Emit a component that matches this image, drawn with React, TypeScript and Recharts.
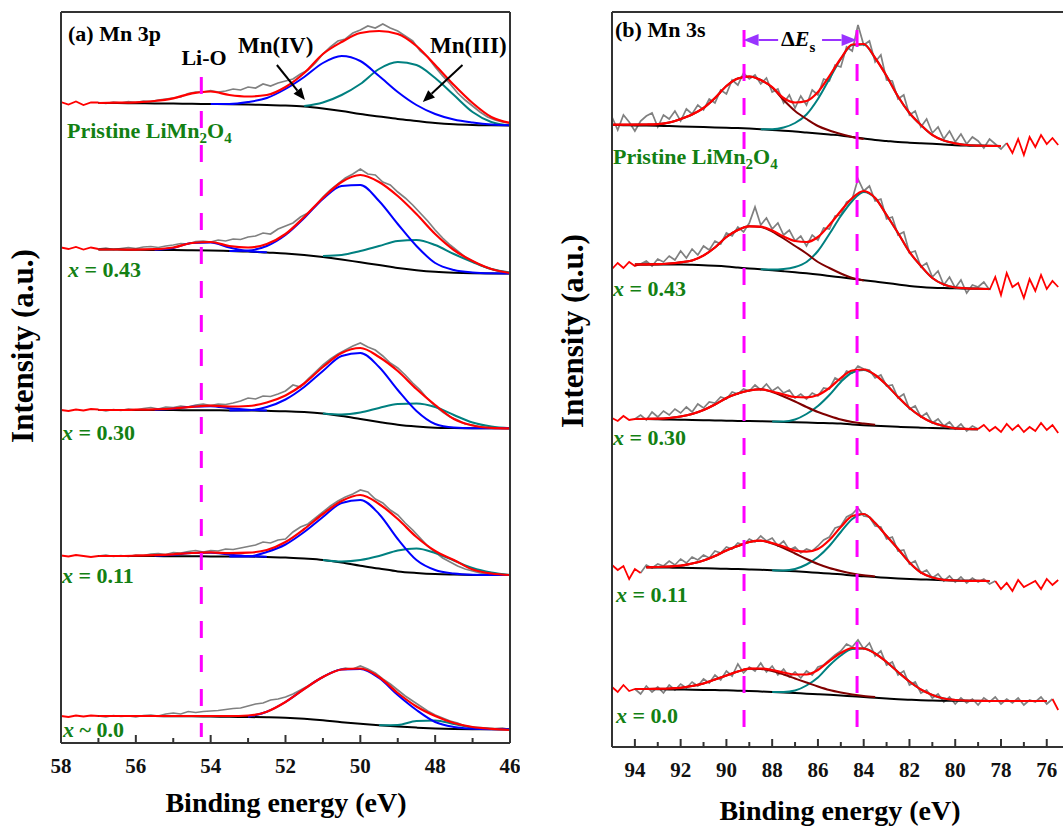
import React from "react";
import { LineChart, Line, XAxis, YAxis, ReferenceLine } from "recharts";

// ── Energy grids (eV) ───────────────────────────────────────────────
const A_RAW_EV = [
  58, 57.8, 57.6, 57.4, 57.2, 57, 56.8, 56.6, 56.4, 56.2, 56, 55.8, 55.6, 55.4, 55.2, 55,
  54.8, 54.6, 54.4, 54.2, 54, 53.8, 53.6, 53.4, 53.2, 53, 52.8, 52.6, 52.4, 52.2, 52,
  51.8, 51.6, 51.4, 51.2, 51, 50.8, 50.6, 50.4, 50.2, 50, 49.8, 49.6, 49.4, 49.2, 49,
  48.8, 48.6, 48.4, 48.2, 48, 47.8, 47.6, 47.4, 47.2, 47, 46.8, 46.6, 46.4, 46.2, 46,
];
const A_FIT_EV = [
  57, 56.5, 56, 55.5, 55, 54.5, 54, 53.5, 53, 52.5, 52, 51.5, 51, 50.5, 50, 49.5, 49,
  48.5, 48, 47.5, 47, 46.5, 46,
];
const B_RAW_EV = [
  95, 94.75, 94.5, 94.25, 94, 93.75, 93.5, 93.25, 93, 92.75, 92.5, 92.25, 92, 91.75, 91.5,
  91.25, 91, 90.75, 90.5, 90.25, 90, 89.75, 89.5, 89.25, 89, 88.75, 88.5, 88.25, 88, 87.75,
  87.5, 87.25, 87, 86.75, 86.5, 86.25, 86, 85.75, 85.5, 85.25, 85, 84.75, 84.5, 84.25, 84,
  83.75, 83.5, 83.25, 83, 82.75, 82.5, 82.25, 82, 81.75, 81.5, 81.25, 81, 80.75, 80.5,
  80.25, 80, 79.75, 79.5, 79.25, 79, 78.75, 78.5, 78.25, 78, 77.75, 77.5, 77.25, 77, 76.75,
  76.5, 76.25, 76, 75.75, 75.5,
];
const B_FIT_EV = [
  95, 94.5, 94, 93.5, 93, 92.5, 92, 91.5, 91, 90.5, 90, 89.5, 89, 88.5, 88, 87.5, 87, 86.5,
  86, 85.5, 85, 84.5, 84, 83.5, 83, 82.5, 82, 81.5, 81, 80.5, 80, 79.5, 79, 78.5, 78, 77.5,
  77, 76.5, 76, 75.5,
];

const A_TICKS = [46, 47, 48, 49, 50, 51, 52, 53, 54, 55, 56, 57, 58];
const B_TICKS = [76, 77, 78, 79, 80, 81, 82, 83, 84, 85, 86, 87, 88, 89, 90, 91, 92, 93, 94];

const SAMPLES_A = [
  { rel: "=", val: "0.43" },
  { rel: "=", val: "0.30" },
  { rel: "=", val: "0.11" },
  { rel: "~", val: "0.0" },
];
const SAMPLES_B = ["0.43", "0.30", "0.11", "0.0"];

// ── (a) Mn 3p : intensities relative to each trace's baseline ────────
const A_OFFSET = [640, 495, 333, 187, 27];
const A_FIT_RANGE = [[46, 57], [46, 57], [46, 57], [46, 57], [46, 57]];

const A_RAW_PRISTINE = [
  1, -1.5, 1.5, -2, 0.5,
  0.5, -0.5, 1, 0, 1.5, 0.5, 2, 1.5, 3, 4, 5, 6, 9.5, 11, 11, 12.5, 11, 12, 14, 13, 16, 15,
  19, 17, 20, 22, 24, 29, 33, 40, 49, 56, 62, 64, 70, 73, 77, 75, 79, 75, 72, 67, 62, 52,
  46, 36, 27, 19, 10, 3, -3, -9, -14, -17, -19, -20,
];
const A_RAW_043 = [
  0.5, -1, 1, -1.5, 0.5,
  -1, 0, -1.5, -0.5, 0.5, -0.5, 1, 1.5, 0.5, 2, 3, 4.5, 4, 6.5, 7, 6, 8, 7, 9, 8.5, 11, 12,
  15, 14, 19, 22, 25, 31, 35, 42, 51, 58, 64, 70, 74, 79, 74, 73, 66, 63, 56, 50, 43, 35,
  27, 18, 10, 3, -3, -9, -13, -17, -20, -22, -24, -25,
];
const A_RAW_030 = [
  0, -1, 0.5, -0.5, 1,
  0.5, -1, 0.5, -0.5, 1, 0, 1.5, 2.5, 1, 3, 2.5, 4, 3, 5, 6, 4.5, 6, 5.5, 7, 9, 12, 11, 14,
  13.5, 16, 19, 25, 23, 31, 38, 45, 51, 56, 60, 64, 67, 63, 60, 54, 47, 42, 35, 27, 20, 11,
  4, -2, -7, -10, -14, -15, -17, -17.5, -18, -18.5, -18.3,
];
const A_RAW_011 = [
  0.5, -0.5, 1, 0, -1,
  0, 1, -0.5, 0.5, -0.5, 1, 0.5, 2, 2.5, 1.5, 3.5, 3, 4.5, 5.5, 4, 5.5, 5, 7, 6.5, 8, 9.5,
  11, 14, 13, 16, 17, 24, 29, 32, 38, 44, 50, 55, 59, 62, 66, 64, 57, 53, 46, 41, 33, 26,
  18, 10, 4, -2, -6, -10, -13, -15, -17, -18, -18.5, -19, -19,
];
const A_RAW_000 = [
  0, -1, 0.5, -0.5, 0.5,
  0, -1, 0.5, -0.5, 0, -1, 0.5, 1, 0, 2, 3, 2, 4.5, 3.5, 4.5, 5, 5.5, 6.5, 7.5, 8, 10, 12,
  13, 16, 17, 19, 22, 26, 30, 35, 39, 43, 46, 48, 47, 50, 47, 43, 37, 32, 26, 20, 15, 10, 5,
  1, -2, -5, -7, -10, -11, -11.5, -12, -12.5, -12, -13.5,
];

const A_BG_PRISTINE = [0, 0, -0.3, -0.4, -0.6, -0.8, -1, -1.2, -1.5, -2, -2.5, -3.5, -5.5, -8, -11, -13.5, -16, -18, -20, -21.3, -22, -22.3, -22.5];
const A_ENV_PRISTINE = [0, 0.3, 0.7, 2, 4.7, 9.7, 11.5, 8, 6.5, 8, 16, 30, 49, 61, 70, 72, 69, 57, 38, 18, 0, -14, -20];
const A_MN4_PRISTINE = [null, null, null, null, null, null, -1, -1, 1, 5, 14, 26, 40, 47, 42, 27, 11, -2, -11, -16.5, -19.5, -21.5, -22.3];
const A_MN3_PRISTINE = [null, null, null, null, null, null, null, null, null, null, null, -3, 0.5, 8, 19, 34, 41, 38, 25, 8, -9, -19, -22.3];

const A_BG_043 = [-1.5, -1.5, -1.8, -2, -2, -2.2, -2.5, -3, -3.5, -4.5, -5.5, -7, -9, -11.5, -14.3, -17, -20, -22.2, -23.8, -24.7, -25.2, -25.4, -25.5];
const A_ENV_043 = [-1.5, -1.5, -1.6, -1.2, 0.5, 5, 6, 2, 0.5, 4, 14, 31, 50, 66, 73, 66, 52, 34, 14, -2, -13, -21, -25];
const A_MN4_043 = [null, null, null, null, null, null, null, -3, -2.5, 2, 13, 30, 49, 62, 63, 47, 24, 2, -15, -22, -24.5, -25.3, -25.5];
const A_MN3_043 = [null, null, null, null, null, null, null, null, null, null, null, null, -8, -7, -3, 2, 7, 8, 3, -6, -14, -21, -24.5];
const A_LIO_043 = [null, null, null, -1.8, 0, 5, 5.5, 0.5, -3, -4.3, null, null, null, null, null, null, null, null, null, null, null, null, null];

const A_BG_030 = [0, 0, 0, 0, -0.1, -0.2, -0.3, -0.4, -0.5, -0.8, -1.2, -2, -3.5, -6, -9, -12, -14.7, -16.5, -17.7, -18.1, -18.3, -18.3, -18.3];
const A_ENV_030 = [0, 0, 0.3, 0.7, 1.5, 3.2, 4.3, 3.5, 4, 7.5, 14.5, 26.5, 43, 57, 62, 53, 39, 21, 5, -9, -15.5, -17.8, -18.3];
const A_MN4_030 = [null, null, null, null, null, null, null, -0.4, -0.3, 3, 10.5, 23, 39, 54, 57, 43, 20, -1, -14, -17.5, -18.2, -18.3, -18.3];
const A_MN3_030 = [null, null, null, null, null, null, null, null, null, null, null, null, -3.5, -4.5, -2.5, 2, 6, 6.5, 3, -5, -12.5, -16.5, -18.3];
const A_LIO_030 = [null, null, null, 0.3, 1.2, 3.2, 3.8, 1.8, 0.3, -0.6, null, null, null, null, null, null, null, null, null, null, null, null, null];

const A_BG_011 = [0, 0, 0, -0.1, -0.2, -0.3, -0.4, -0.5, -0.5, -1, -1.5, -2.6, -4, -6.5, -9.7, -12.5, -15.4, -17, -18.1, -18.6, -18.9, -19, -19];
const A_ENV_011 = [0, 0, 0.3, 0.8, 1.7, 3, 3.6, 2.8, 3.3, 6, 14, 27, 42, 55, 61, 52, 37, 19, 5, -4, -13.5, -17.5, -19];
const A_MN4_011 = [null, null, null, null, null, null, null, -0.5, -0.5, 4, 11.5, 24, 39, 53, 56, 42, 17, -4, -14, -17.5, -18.7, -19, -19];
const A_MN3_011 = [null, null, null, null, null, null, null, null, null, null, null, null, -4, -5.5, -4, 0, 5.5, 7.5, 3, -4.5, -12, -16.5, -19];
const A_LIO_011 = [null, null, null, 0.4, 1.3, 3, 3.3, 1.5, 0, -0.8, null, null, null, null, null, null, null, null, null, null, null, null, null];

const A_BG_000 = [0, 0, 0, -0.1, -0.2, -0.3, -0.5, -0.8, -1, -1.3, -1.8, -2.8, -4.3, -6.2, -7.8, -9.3, -10.6, -11.6, -12.4, -12.9, -13.2, -13.3, -13.3];
const A_ENV_000 = [0, 0, 0, 0, 0, 0, 0, 0, 0.5, 4.3, 14, 27, 39, 46.5, 47.5, 39, 23, 9.5, 0, -7, -11, -12.8, -14];
const A_MN4_000 = [null, null, null, null, null, null, null, null, -0.8, 4.3, 14, 27, 39, 46.5, 47, 38, 21, 6, -6, -11, -12.8, -13.2, -13.3];
const A_MN3_000 = [null, null, null, null, null, null, null, null, null, null, null, null, null, null, null, -9.3, -9, -5, -4.5, -8, -11.5, -13, -13.3];

// ── (b) Mn 3s ────────────────────────────────────────────────────────
const B_OFFSET = [622, 482, 328, 180, 58];
const B_FIT_RANGE = [[77.75, 95], [78.5, 93.75], [79, 94], [78.25, 93.75], [75.75, 94]];

const B_RAW_PRISTINE = [
  8, -5, 10, 3, -6, 4, 9, 12, -2, 10,
  6, 14, 4, 16, 11, 20, 15, 26, 22, 35,
  31, 45, 40, 52, 46, 50, 41, 47, 33, 36,
  22, 30, 17, 29, 20, 35, 30, 46, 44, 60,
  58, 78, 74, 100, 80, 84, 63, 70, 45, 44,
  26, 30, 10, 14, -2, 6, -8, -2, -14, -6,
  -17, -9, -19, -12, -16, -23, -14, -19, -24, -18,
  -28, -14, -30, -12, -22, -10, -19, -13, -20,
];
const B_RAW_043 = [
  -4, 2, -3, 3, -1, 1, 4, -1, 6, 3,
  9, 5, 14, 7, 16, 10, 19, 15, 24, 21,
  32, 29, 38, 33, 42, 58, 40, 47, 36, 42,
  30, 35, 24, 29, 19, 30, 25, 37, 36, 49,
  50, 63, 66, 86, 74, 79, 64, 66, 46, 48,
  30, 33, 12, 14, -2, 2, -12, -6, -20, -12,
  -23, -15, -28, -20, -22, -17, -25, -12, -30, -8,
  -22, -18, -33, -14, -26, -10, -24, -16, -22,
];
const B_RAW_030 = [
  1, -2, 3, -1, 0, 4, -1, 7, 2, 8,
  4, 10, 6, 12, 7, 15, 11, 17, 16, 22,
  20, 27, 25, 30, 28, 34, 29, 35, 28, 32,
  26, 29, 21, 25, 20, 26, 23, 31, 30, 41,
  38, 48, 46, 53, 50, 49, 41, 44, 33, 34,
  21, 25, 10, 13, 2, 6, -4, 0, -7, -3,
  -10, -5, -12, -7, -10, -6, -12, -8, -13, -5,
  -11, -6, -13, -8, -12, -4, -11, -6, -14,
];
const B_RAW_011 = [
  2, -3, 1, -12, -2, -6, 2, -1, 3, 1,
  6, 2, 8, 4, 10, 7, 12, 9, 16, 14,
  20, 18, 24, 22, 28, 25, 31, 26, 29, 21,
  26, 17, 20, 14, 18, 16, 21, 27, 30, 39,
  41, 50, 53, 59, 51, 50, 41, 40, 28, 30,
  16, 17, 3, 6, -6, -3, -11, -7, -14, -9,
  -15, -10, -16, -11, -15, -12, -17, -14, -22, -16,
  -24, -13, -20, -17, -14, -22, -12, -18, -13,
];
const B_RAW_000 = [
  2, -3, 4, -2, 0, -5, 3, -3, 2, -4,
  4, -1, 5, 1, 7, 3, 10, 6, 14, 9,
  18, 13, 25, 16, 22, 18, 26, 17, 23, 14,
  20, 12, 17, 11, 18, 14, 22, 24, 29, 34,
  38, 45, 42, 49, 40, 46, 33, 38, 24, 27,
  14, 18, 4, 7, -4, -1, -9, -5, -13, -8,
  -15, -9, -14, -10, -16, -9, -13, -8, -15, -10,
  -14, -9, -16, -11, -13, -8, -15, -10, -21,
];

const B_BG_PRISTINE = [0, -0.2, -0.4, -0.6, -0.8, -1.1, -1.4, -1.7, -2, -2.4, -2.8, -3.1, -3.6, -4.2, -5, -5.8, -6.5, -7.5, -8.5, -9.5, -10.5, -12, -13.5, -15, -16, -17, -17.7, -18.3, -18.8, -19.5, -20.2, -20.6, -20.8, -20.9, -21, null, null, null, null, null];
const B_ENV_PRISTINE = [0.3, 0.3, 0.4, 0.5, 0.8, 2.5, 6, 10.5, 17, 27, 39, 46.5, 48.5, 45, 38, 27, 22.5, 24, 33, 49, 66.5, 80.5, 81, 67, 49, 28.5, 12, 0, -10, -15.5, -18.3, -20, -20.6, -20.8, -21, null, null, null, null, null];
const B_HI_PRISTINE = [0.3, 0.3, 0.4, 0.5, 0.8, 2.5, 6, 10.5, 17, 27, 39, 46.5, 48.5, 45, 37.5, 25, 14, 6, -1, -5.5, -9, -12, -14, null, null, null, null, null, null, null, null, null, null, null, null, null, null, null, null, null];
const B_LO_PRISTINE = [null, null, null, null, null, null, null, null, null, null, null, null, null, -4.2, -4.3, -2.5, 2, 10.5, 26, 46, 66, 80, 80.5, 67, 49, 28.5, 12, 0, -10, -15.5, -18.3, -20, -20.6, -20.8, -21, null, null, null, null, null];

const B_BG_043 = [null, null, 0.5, 0.5, 0.5, 0.5, 0.5, 0.2, -0.3, -0.8, -1.5, -2.5, -3.5, -4.3, -5.3, -6.3, -7.3, -8.3, -9.5, -11, -12.3, -13.7, -15.2, -16.6, -18, -19.5, -21, -22, -22.7, -23.1, -23.3, -23.6, -23.8, -24, null, null, null, null, null, null];
const B_ENV_043 = [null, null, 0.5, 0.6, 0.8, 1.5, 2.7, 4.5, 9.5, 17.5, 28, 35, 38.7, 38.3, 34.5, 28.5, 24, 23, 28, 40, 54, 67, 74, 67, 50, 32, 13, -1, -13, -19.5, -22.5, -23.3, -23.7, -24, null, null, null, null, null, null];
const B_HI_043 = [null, null, 0.5, 0.6, 0.8, 1.5, 2.7, 4.5, 9.5, 17.5, 28, 35, 38.7, 38, 33.5, 26.5, 19, 11.5, 3, -3, -8.5, -13, -15.5, null, null, null, null, null, null, null, null, null, null, null, null, null, null, null, null, null];
const B_LO_043 = [null, null, null, null, null, null, null, null, null, null, null, null, null, -4.3, -4.5, -4, -2, 3, 14, 31, 49, 64, 73, 67, 50, 32, 13, -1, -13, -19.5, -22.5, -23.3, -23.7, -24, null, null, null, null, null, null];

const B_BG_030 = [null, null, 0, -0.1, -0.3, -0.5, -0.7, -1, -1.2, -1.5, -1.7, -1.9, -2.1, -2.3, -2.5, -2.9, -3.2, -3.5, -3.9, -4.2, -4.6, -5.5, -6.2, -6.7, -7.3, -7.8, -8.3, -8.7, -9, -9.3, -9.5, -9.9, -10.2, null, null, null, null, null, null, null];
const B_ENV_030 = [null, null, 0, 0.1, 0.3, 1, 2.5, 5, 9, 14.5, 21, 25.5, 28.5, 29.7, 27.5, 24.5, 22, 21.7, 24, 31, 41, 48.5, 49.5, 44, 34, 22, 11, 2.5, -3.5, -7, -9.3, -9.9, -10.2, null, null, null, null, null, null, null];
const B_HI_030 = [null, null, 0, 0.1, 0.3, 1, 2.5, 5, 9, 14.5, 21, 25.5, 28.5, 29.7, 27, 22.5, 17.5, 12, 7, 3, -0.5, -3, -4.5, -5.8, null, null, null, null, null, null, null, null, null, null, null, null, null, null, null, null];
const B_LO_030 = [null, null, null, null, null, null, null, null, null, null, null, null, null, null, -2.5, -2.5, -0.5, 5, 13, 24, 37, 46.5, 49, 44, 34, 22, 11, 2.5, -3.5, -7, -9.3, -9.9, -10.2, null, null, null, null, null, null, null];

const B_BG_011 = [null, null, null, -0.3, -0.5, -0.6, -0.8, -1, -1.2, -1.5, -1.8, -2.1, -2.5, -2.8, -3.2, -3.7, -4.3, -5, -5.8, -6.5, -7.3, -8.5, -9.3, -10, -10.8, -11.5, -12, -12.4, -12.8, -13.2, -13.5, -13.7, -13.8, -14, null, null, null, null, null, null];
const B_ENV_011 = [null, null, null, -0.3, 0, 0.5, 1.3, 3.5, 6.5, 11, 16.5, 21, 25, 26.3, 24, 20.5, 16.3, 15.3, 18, 27, 40, 51, 53, 44, 31, 18, 4.5, -5.5, -10.5, -12.8, -13.5, -13.8, -13.9, -14, null, null, null, null, null, null];
const B_HI_011 = [null, null, null, -0.3, 0, 0.5, 1.3, 3.5, 6.5, 11, 16.5, 21, 25, 26.3, 23.5, 19, 13.5, 8, 3, -1, -4, -6.5, -8.3, -9.5, null, null, null, null, null, null, null, null, null, null, null, null, null, null, null, null];
const B_LO_011 = [null, null, null, null, null, null, null, null, null, null, null, null, null, null, -3.2, -3.5, -2, 2.5, 10, 21, 35, 48, 53, 44, 31, 18, 4.5, -5.5, -10.5, -12.8, -13.5, -13.8, -13.9, -14, null, null, null, null, null, null];

const B_BG_000 = [null, null, 0, -0.1, -0.2, -0.4, -0.5, -0.7, -0.9, -1.1, -1.3, -1.7, -2, -2.5, -3, -3.5, -4, -4.7, -5.2, -5.8, -6.5, -7.3, -8, -8.8, -9.5, -10.2, -10.7, -11.2, -11.5, -11.7, -11.8, -11.9, -12, -12, -12, -12, -12, -12, -12, null];
const B_ENV_000 = [null, null, 0, 0, 0.2, 0.5, 1.2, 3, 5.5, 9.5, 13.5, 17.5, 20.3, 20.5, 19, 16.5, 14.5, 14.5, 19, 28, 36, 41, 40.5, 35.5, 27, 17, 7.5, -0.5, -6, -9.5, -11, -11.6, -11.8, -12, -12, -12, -12, -12, -12, null];
const B_HI_000 = [null, null, 0, 0, 0.2, 0.5, 1.2, 3, 5.5, 9.5, 13.5, 17.5, 20.3, 20, 18, 14.5, 10.5, 6.5, 2.5, -1, -3.5, -5.5, -7, -8, null, null, null, null, null, null, null, null, null, null, null, null, null, null, null, null];
const B_LO_000 = [null, null, null, null, null, null, null, null, null, null, null, null, null, null, -3, -3, -1.5, 3.5, 11.5, 23.5, 33.5, 40, 40.5, 35.5, 27, 17, 7.5, -0.5, -6, -9.5, -11, -11.6, -11.8, -12, null, null, null, null, null, null];

// ── Colours ─────────────────────────────────────────────────────────
const GRAY = "#808080";
const RED = "#ff0000";
const BLUE = "#0000ff";
const TEAL = "#008080";
const BROWN = "#800000";
const BLACK = "#000000";
const FRAME = "#333333";
const MAGENTA = "#ff00ff";
const VIOLET = "#9933ff";
const GREEN = "#138013";
const FONT = "'Times New Roman', 'Liberation Serif', Times, serif";

const A_SPECTRA = [
  { raw: A_RAW_PRISTINE, bg: A_BG_PRISTINE, env: A_ENV_PRISTINE, comps: [[A_MN3_PRISTINE, TEAL], [A_MN4_PRISTINE, BLUE]] },
  { raw: A_RAW_043, bg: A_BG_043, env: A_ENV_043, comps: [[A_MN3_043, TEAL], [A_MN4_043, BLUE], [A_LIO_043, BLUE]] },
  { raw: A_RAW_030, bg: A_BG_030, env: A_ENV_030, comps: [[A_MN3_030, TEAL], [A_MN4_030, BLUE], [A_LIO_030, BLUE]] },
  { raw: A_RAW_011, bg: A_BG_011, env: A_ENV_011, comps: [[A_MN3_011, TEAL], [A_MN4_011, BLUE], [A_LIO_011, BLUE]] },
  { raw: A_RAW_000, bg: A_BG_000, env: A_ENV_000, comps: [[A_MN3_000, TEAL], [A_MN4_000, BLUE]] },
];
const B_SPECTRA = [
  { raw: B_RAW_PRISTINE, bg: B_BG_PRISTINE, env: B_ENV_PRISTINE, comps: [[B_LO_PRISTINE, TEAL], [B_HI_PRISTINE, BROWN]] },
  { raw: B_RAW_043, bg: B_BG_043, env: B_ENV_043, comps: [[B_LO_043, TEAL], [B_HI_043, BROWN]] },
  { raw: B_RAW_030, bg: B_BG_030, env: B_ENV_030, comps: [[B_LO_030, TEAL], [B_HI_030, BROWN]] },
  { raw: B_RAW_011, bg: B_BG_011, env: B_ENV_011, comps: [[B_LO_011, TEAL], [B_HI_011, BROWN]] },
  { raw: B_RAW_000, bg: B_BG_000, env: B_ENV_000, comps: [[B_LO_000, TEAL], [B_HI_000, BROWN]] },
];

// ── Helpers ─────────────────────────────────────────────────────────
type Pt = { ev: number; v: number | null };

const points = (ev: number[], vals: (number | null)[], off: number): Pt[] =>
  ev.map((e, i) => ({ ev: e, v: vals[i] == null ? null : (vals[i] as number) + off }));

// raw data inside the fitted window is grey, outside it is drawn red
const rawPart = (ev: number[], vals: number[], off: number, range: number[], inside: boolean): Pt[] =>
  ev.map((e, i) => {
    const isIn = e >= range[0] && e <= range[1];
    const isEdge = e === range[0] || e === range[1];
    return { ev: e, v: inside ? (isIn ? vals[i] + off : null) : (!isIn || isEdge ? vals[i] + off : null) };
  });

const line = (key: string, data: Pt[], color: string, width: number, curve: "linear" | "monotone") => (
  <Line
    key={key}
    data={data}
    dataKey="v"
    type={curve}
    stroke={color}
    strokeWidth={width}
    dot={false}
    activeDot={false}
    connectNulls={false}
    isAnimationActive={false}
  />
);

function traces(prefix: string, spectra: any[], rawEv: number[], fitEv: number[], offsets: number[], ranges: number[][]) {
  const out: React.ReactNode[] = [];
  spectra.forEach((s, k) => {
    const off = offsets[k];
    out.push(line(`${prefix}raw${k}`, rawPart(rawEv, s.raw, off, ranges[k], true), GRAY, 1.7, "linear"));
    out.push(line(`${prefix}tail${k}`, rawPart(rawEv, s.raw, off, ranges[k], false), RED, 1.8, "linear"));
    out.push(line(`${prefix}bg${k}`, points(fitEv, s.bg, off), BLACK, 2, "monotone"));
    s.comps.forEach(([vals, color]: [(number | null)[], string], j: number) => {
      out.push(line(`${prefix}c${k}_${j}`, points(fitEv, vals, off), color, 2, "monotone"));
    });
    out.push(line(`${prefix}env${k}`, points(fitEv, s.env, off), RED, 2.2, "monotone"));
  });
  return out;
}

const makeTick = (labelDy: number) => (props: any) => {
  const { x, y, payload } = props;
  const v = payload.value as number;
  const major = v % 2 === 0;
  return (
    <g>
      <line x1={x} y1={y} x2={x} y2={y - (major ? 8 : 5)} stroke={FRAME} strokeWidth={2} />
      {major && (
        <text x={x} y={y + labelDy} textAnchor="middle" fontFamily={FONT} fontWeight="bold" fontSize={21} fill="#111">
          {v}
        </text>
      )}
    </g>
  );
};

const arrowShape = (color: string, head: number, half: number) => (props: any) => {
  const { x1, y1, x2, y2 } = props;
  const dx = x2 - x1;
  const dy = y2 - y1;
  const len = Math.hypot(dx, dy) || 1;
  const ux = dx / len;
  const uy = dy / len;
  const bx = x2 - ux * head;
  const by = y2 - uy * head;
  return (
    <g>
      <line x1={x1} y1={y1} x2={bx} y2={by} stroke={color} strokeWidth={2} />
      <polygon
        points={`${x2},${y2} ${bx - uy * half},${by + ux * half} ${bx + uy * half},${by - ux * half}`}
        fill={color}
      />
    </g>
  );
};

const frameLine = { stroke: FRAME, strokeWidth: 2 };

// ── Component ───────────────────────────────────────────────────────
export default function App() {
  return (
    <div style={{ position: "absolute", left: 0, top: 0, width: 1063, height: 828, background: "#fff", overflow: "hidden" }}>
      {/* (a) Mn 3p */}
      <div style={{ position: "absolute", left: 0, top: 0 }}>
        <LineChart width={520} height={790} margin={{ top: 12, right: 10, bottom: 0, left: 61 }}>
          <XAxis
            type="number"
            dataKey="ev"
            domain={[46, 58]}
            reversed
            allowDataOverflow
            ticks={A_TICKS}
            interval={0}
            tickLine={false}
            axisLine={false}
            tickSize={0}
            tickMargin={0}
            height={47}
            tick={makeTick(30)}
          />
          <YAxis type="number" domain={[0, 731]} hide allowDataOverflow />
          {traces("a", A_SPECTRA, A_RAW_EV, A_FIT_EV, A_OFFSET, A_FIT_RANGE)}
          <ReferenceLine
            segment={[{ x: 54.25, y: 666 }, { x: 54.25, y: 6 }]}
            stroke={MAGENTA}
            strokeWidth={3}
            strokeDasharray="17 17"
          />
          <ReferenceLine segment={[{ x: 52.23, y: 678 }, { x: 51.48, y: 643 }]} shape={arrowShape(BLACK, 12, 5)} />
          <ReferenceLine segment={[{ x: 47.27, y: 678 }, { x: 48.33, y: 641 }]} shape={arrowShape(BLACK, 12, 5)} />
          <ReferenceLine y={0} {...frameLine} />
          <ReferenceLine y={731} {...frameLine} />
          <ReferenceLine x={58} {...frameLine} />
          <ReferenceLine x={46} {...frameLine} />
        </LineChart>
      </div>

      {/* (b) Mn 3s */}
      <div style={{ position: "absolute", left: 560, top: 0 }}>
        <LineChart width={503} height={795} margin={{ top: 12, right: 0, bottom: 0, left: 52 }}>
          <XAxis
            type="number"
            dataKey="ev"
            domain={[75.29, 95]}
            reversed
            allowDataOverflow
            ticks={B_TICKS}
            interval={0}
            tickLine={false}
            axisLine={false}
            tickSize={0}
            tickMargin={0}
            height={48}
            tick={makeTick(30)}
          />
          <YAxis type="number" domain={[0, 735]} hide allowDataOverflow />
          {traces("b", B_SPECTRA, B_RAW_EV, B_FIT_EV, B_OFFSET, B_FIT_RANGE)}
          <ReferenceLine
            segment={[{ x: 89.23, y: 717 }, { x: 89.23, y: 10 }]}
            stroke={MAGENTA}
            strokeWidth={3}
            strokeDasharray="17 17"
          />
          <ReferenceLine
            segment={[{ x: 84.29, y: 717 }, { x: 84.29, y: 10 }]}
            stroke={MAGENTA}
            strokeWidth={3}
            strokeDasharray="17 17"
          />
          <ReferenceLine segment={[{ x: 87.74, y: 707 }, { x: 89.25, y: 707 }]} shape={arrowShape(VIOLET, 15, 6)} />
          <ReferenceLine segment={[{ x: 85.82, y: 707 }, { x: 84.31, y: 707 }]} shape={arrowShape(VIOLET, 15, 6)} />
          <ReferenceLine y={0} {...frameLine} />
          <ReferenceLine y={735} {...frameLine} />
          <ReferenceLine x={95} {...frameLine} />
        </LineChart>
      </div>

      {/* text layer */}
      <svg
        width={1063}
        height={828}
        style={{ position: "absolute", left: 0, top: 0, pointerEvents: "none" }}
        fontFamily={FONT}
        fontWeight="bold"
      >
        <text x={68} y={41} fontSize={22}>(a) Mn 3p</text>
        <text x={204} y={65} fontSize={22} textAnchor="middle">Li-O</text>
        <text x={238} y={53} fontSize={23}>Mn(IV)</text>
        <text x={430} y={53} fontSize={23}>Mn(III)</text>
        <text x={67} y={138} fontSize={22} fill={GREEN}>
          Pristine LiMn<tspan fontSize={15} dy={5}>2</tspan>
          <tspan dy={-5}>O</tspan>
          <tspan fontSize={15} dy={5}>4</tspan>
        </text>
        {SAMPLES_A.map((s, i) => (
          <text key={s.val} x={[68, 62, 62, 63][i]} y={[277, 440, 583, 737][i]} fontSize={22} fill={GREEN}>
            <tspan fontStyle="italic">x</tspan> {s.rel} {s.val}
          </text>
        ))}

        <text x={615} y={37} fontSize={22}>(b) Mn 3s</text>
        <text x={781} y={46} fontSize={22}>
          Δ<tspan fontStyle="italic">E</tspan>
          <tspan fontSize={15} dy={6}>s</tspan>
        </text>
        <text x={613} y={164} fontSize={22} fill={GREEN}>
          Pristine LiMn<tspan fontSize={15} dy={5}>2</tspan>
          <tspan dy={-5}>O</tspan>
          <tspan fontSize={15} dy={5}>4</tspan>
        </text>
        {SAMPLES_B.map((v, i) => (
          <text key={v} x={[613, 613, 616, 616][i]} y={[296, 445, 602, 723][i]} fontSize={22} fill={GREEN}>
            <tspan fontStyle="italic">x</tspan> = {v}
          </text>
        ))}

        <text x={286} y={812} fontSize={28} textAnchor="middle">Binding energy (eV)</text>
        <text x={840} y={820} fontSize={28} textAnchor="middle">Binding energy (eV)</text>
        <text transform="translate(33,346) rotate(-90)" fontSize={31} textAnchor="middle">Intensity (a.u.)</text>
        <text transform="translate(583,331) rotate(-90)" fontSize={31} textAnchor="middle">Intensity (a.u.)</text>
      </svg>
    </div>
  );
}
